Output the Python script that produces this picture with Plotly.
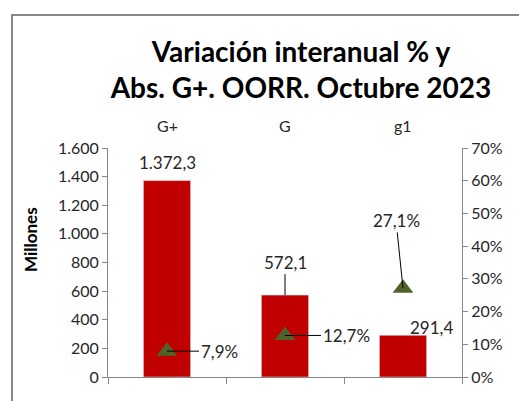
import plotly.graph_objects as go

categories = ["G+", "G", "g1"]
abs_values = [1372.3, 572.1, 291.4]       # Millones
pct_values = [0.079, 0.127, 0.271]        # variación interanual
left_ticks = [0, 200, 400, 600, 800, 1000, 1200, 1400, 1600]
right_ticks = [0, 0.1, 0.2, 0.3, 0.4, 0.5, 0.6, 0.7]

FONT = "Lato"
TXT = "#262626"
AX = "#868686"

# page body has an 8px margin: figure is drawn 8px right/down
OFF = 8
W, H = 527 - OFF, 401 - OFF
PL, PR, PT, PB = 108, 462, 148, 377   # plot area on screen

def fmt_abs(v):
    s = f"{v:,.1f}"
    return s.replace(",", "X").replace(".", ",").replace("X", ".")

def fmt_pct(v):
    return f"{v*100:.1f}%".replace(".", ",")

fig = go.Figure()
fig.add_trace(go.Bar(x=categories, y=abs_values, marker_color="#C00000",
                     width=0.4, yaxis="y", showlegend=False))
fig.add_trace(go.Scatter(x=categories, y=pct_values, mode="markers", yaxis="y2",
                         marker=dict(symbol="triangle-up", size=18, color="#4F6228"),
                         showlegend=False))

ann = []
ann.append(dict(x=categories[0], y=abs_values[0], yref="y", text=fmt_abs(abs_values[0]),
                showarrow=False, yanchor="middle", yshift=18))
ann.append(dict(x=categories[1], y=abs_values[1], yref="y", text=fmt_abs(abs_values[1]),
                showarrow=True, arrowhead=0, arrowwidth=1, arrowcolor="#000",
                ax=0, ay=-33, standoff=0))
ann.append(dict(x=categories[2], y=abs_values[2], yref="y", text=fmt_abs(abs_values[2]),
                showarrow=False, yanchor="middle", xshift=28, yshift=8))
offsets = [(52, 0), (61, 0), (-7, -68)]
for c, v, (dx, dy) in zip(categories, pct_values, offsets):
    ann.append(dict(x=c, y=v, yref="y2", text=fmt_pct(v), showarrow=True, arrowhead=0,
                    arrowwidth=1, arrowcolor="#000", ax=dx, ay=dy, standoff=0))
for a in ann:
    a["xref"] = "x"
    a["font"] = dict(family=FONT, size=17, color=TXT)
ph = PB - PT
pw = PR - PL
for c in categories:
    ann.append(dict(x=c, xref="x", y=(PB - 125) / ph, yref="paper", yanchor="middle",
                    text=c, showarrow=False, font=dict(family=FONT, size=16, color=TXT)))
ann.append(dict(x=(30 - PL) / pw, xref="paper", y=(PB - 240) / ph, yref="paper",
                xanchor="center", yanchor="middle", text="<b>Millones</b>",
                textangle=-90, showarrow=False, font=dict(family=FONT, size=17, color="#000")))

fig.update_layout(
    width=W, height=H,
    margin=dict(l=PL - OFF, r=W + OFF - PR, t=PT - OFF, b=H + OFF - PB),
    paper_bgcolor="white", plot_bgcolor="white",
    separators=",.",
    title=dict(text="<b>Variación interanual % y<br>Abs. G+. OORR. Octubre 2023</b>",
               x=(301 - OFF) / W, xanchor="center", xref="container",
               y=1 - (62 - OFF) / H, yanchor="middle", yref="container",
               font=dict(family=FONT, size=28, color="#000")),
    xaxis=dict(showline=True, linecolor=AX, linewidth=1, ticks="outside",
               tickson="boundaries", ticklen=6, tickcolor=AX, showticklabels=False,
               showgrid=False, zeroline=False),
    yaxis=dict(range=[0, 1600], tickvals=left_ticks, tickformat=",.0f",
               showline=True, linecolor=AX, ticks="outside", ticklen=5, tickcolor=AX,
               showgrid=False, zeroline=False,
               tickfont=dict(family=FONT, size=16, color=TXT)),
    yaxis2=dict(range=[0, 0.7], tickvals=right_ticks, tickformat=".0%",
                overlaying="y", side="right", showline=True, linecolor=AX,
                ticks="outside", ticklen=5, tickcolor=AX, showgrid=False, zeroline=False,
                tickfont=dict(family=FONT, size=16, color=TXT)),
    annotations=ann,
    shapes=[dict(type="rect", xref="paper", yref="paper",
                 x0=(12 - PL) / pw, x1=(540 - PL) / pw,
                 y0=(PB - 420) / ph, y1=(PB - 15) / ph,
                 line=dict(color="#888888", width=2), fillcolor="rgba(0,0,0,0)", layer="below")],
)

fig.write_html("out.html")
